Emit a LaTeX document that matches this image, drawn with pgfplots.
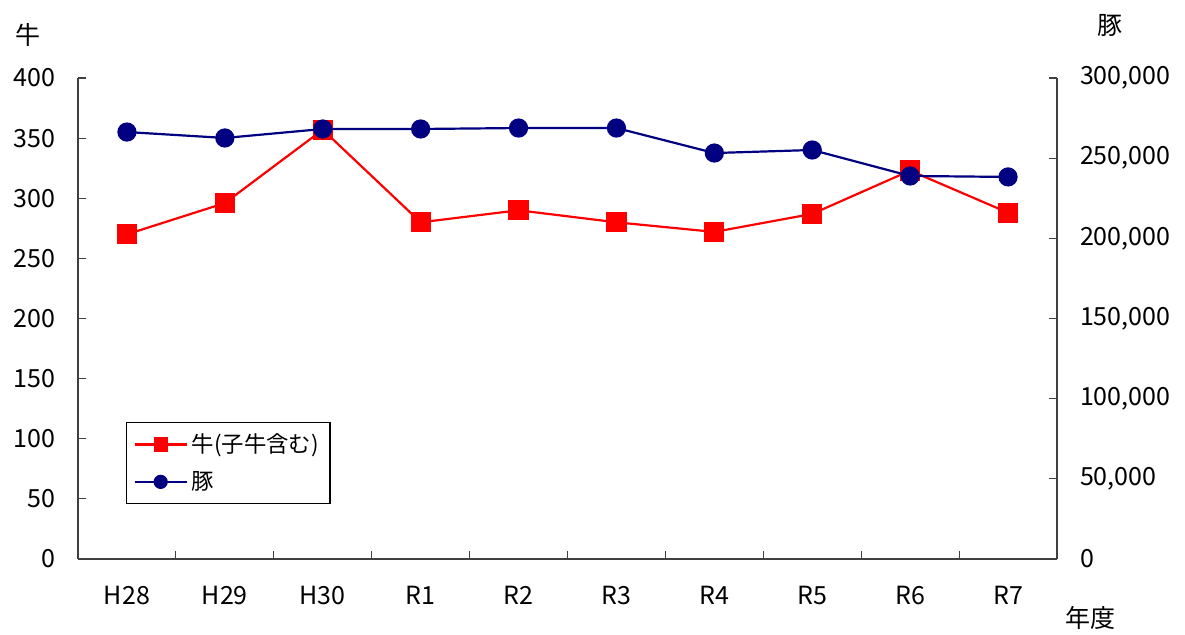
\documentclass[border=0pt]{standalone}
\usepackage{fontspec}
\setmainfont{Noto Sans CJK JP}
\usepackage{pgfplots}
\pgfplotsset{compat=1.18}
\definecolor{cowred}{HTML}{FF0000}
\definecolor{pignavy}{HTML}{000080}
\begin{document}
\begin{tikzpicture}
\useasboundingbox (-39pt,-37.5pt) rectangle (553.5pt,279.5pt);
\pgfplotsset{
  base/.style={
    scale only axis, width=489.5pt, height=240.5pt,
    xmin=-0.5, xmax=9.5,
    font=\fontsize{12.5}{15}\selectfont,
    /pgf/number format/assume math mode=true,
    tick align=inside,
    major tick length=4pt, minor tick length=4pt,
    axis line style={black!75, line width=0.6pt},
    tick style={black!75, line width=0.6pt},
  }
}
\begin{axis}[base,
  axis x line*=bottom, axis y line*=left,
  ymin=0, ymax=400, ytick={0,50,...,400},
  xtick={0,...,9},
  xticklabels={H28,H29,H30,R1,R2,R3,R4,R5,R6,R7},
  minor xtick={0.5,1.5,...,8.5},
  major x tick style={draw=none},
  xticklabel style={yshift=-10pt},
  yticklabel style={xshift=-8pt},
]
\addplot[cowred, line width=1.1pt, mark=square*, mark size=4.5pt, mark options={solid, fill=cowred}]
  coordinates {(0,270) (1,296) (2,357) (3,280) (4,290) (5,280) (6,272) (7,287) (8,323) (9,288)};
\end{axis}
\begin{axis}[base,
  axis x line=none, axis y line*=right,
  ymin=0, ymax=300000, ytick={0,50000,...,300000},
  scaled y ticks=false,
  yticklabel style={xshift=8pt, /pgf/number format/.cd, fixed, 1000 sep={,}},
  legend style={at={(0.049,0.285)}, anchor=north west, draw=black, line width=0.6pt,
    font=\fontsize{11.2}{13}\selectfont, row sep=4pt, inner sep=3.5pt,
    cells={anchor=west}},
  legend image code/.code={
    \draw[mark repeat=2, mark phase=2] plot coordinates {(0pt,0pt) (13pt,0pt) (26pt,0pt)};
  },
]
\addlegendimage{cowred, line width=1.1pt, mark=square*, mark size=3pt, mark options={solid, fill=cowred}}
\addlegendentry{牛(子牛含む)}
\addplot[pignavy, line width=1.1pt, mark=*, mark size=4.25pt, mark options={solid, fill=pignavy}, forget plot]
  coordinates {(0,266300) (1,262600) (2,268200) (3,268200) (4,268800) (5,268800) (6,253200) (7,255100) (8,238900) (9,238300)};
\addlegendimage{pignavy, line width=1.1pt, mark=*, mark size=3pt, mark options={solid, fill=pignavy}}
\addlegendentry{豚}
\end{axis}
\node[font=\fontsize{12.5}{15}\selectfont] at (-25pt,262pt) {牛};
\node[font=\fontsize{12.5}{15}\selectfont] at (516pt,267pt) {豚};
\node[font=\fontsize{12.5}{15}\selectfont] at (506pt,-29.5pt) {年度};
\end{tikzpicture}
\end{document}
